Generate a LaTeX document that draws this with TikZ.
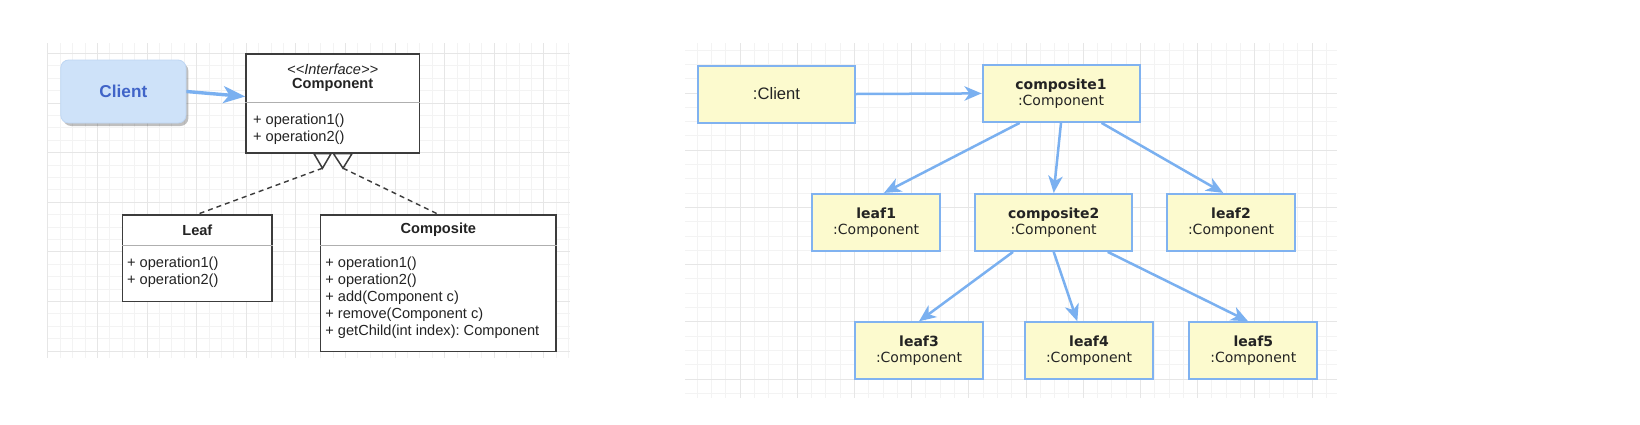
\documentclass[tikz,border=0pt]{standalone}
\usepackage{fontspec}
\setmainfont{Liberation Sans}
\newfontfamily\dvsans{DejaVu Sans}
\usetikzlibrary{arrows.meta,calc,shadows}
\definecolor{arrowblue}{RGB}{122,176,240}
\definecolor{boxblue}{RGB}{128,178,240}
\definecolor{boxfill}{RGB}{252,250,206}
\definecolor{clientfill}{RGB}{206,226,249}
\definecolor{clientborder}{RGB}{190,214,243}
\definecolor{clienttext}{RGB}{64,100,200}
\definecolor{umlline}{RGB}{60,60,60}
\definecolor{umldiv}{RGB}{175,175,175}
\definecolor{gridmajor}{RGB}{230,230,230}
\definecolor{gridminor}{RGB}{243,243,243}
\definecolor{txt}{RGB}{35,35,35}
\frenchspacing
\begin{document}
\begin{tikzpicture}[x=0.5pt,y=-0.5pt,
  umlbox/.style={draw=umlline,line width=0.7pt,fill=white,inner sep=0pt},
  objbox/.style={draw=boxblue,line width=1pt,fill=boxfill,inner sep=0pt,minimum height=28.5pt,font=\dvsans\fontsize{7}{8}\selectfont,text=txt,align=center},
  wideobj/.style={objbox,minimum width=78.5pt},
  leafobj/.style={objbox,minimum width=64pt},
  flow/.style={draw=arrowblue,line width=1.25pt,-{Stealth[length=8.5pt,width=7.2pt,inset=2.5pt]}},
  bigflow/.style={draw=arrowblue,line width=1.7pt,-{Stealth[length=11pt,width=8.5pt,inset=3pt]}},
  umltext/.style={font=\fontsize{7.3}{8.4}\selectfont,text=txt,inner sep=0pt},
  gminor/.style={draw=gridminor,line width=0.5pt},
  gmajor/.style={draw=gridmajor,line width=0.5pt},
]
\useasboundingbox (0,0) rectangle (1640,424);
\fill[white] (0,0) rectangle (1640,424);

% left grid
\begin{scope}
\clip (47,43) rectangle (570,358);
\foreach \i in {0,...,42} \draw[gminor] ({47.8+12.4*\i},43) -- ({47.8+12.4*\i},358);
\foreach \j in {0,...,25} \draw[gminor] (47,{41+12.4*\j}) -- (570,{41+12.4*\j});
\foreach \i in {0,...,10} \draw[gmajor] ({47.8+49.6*\i},43) -- ({47.8+49.6*\i},358);
\foreach \j in {0,...,6} \draw[gmajor] (47,{53.4+49.6*\j}) -- (570,{53.4+49.6*\j});
\end{scope}

% right grid
\begin{scope}
\clip (685,43) rectangle (1337,398);
\foreach \i in {0,...,46} \draw[gminor] ({682.8+14.3*\i},43) -- ({682.8+14.3*\i},398);
\foreach \j in {0,...,25} \draw[gminor] (685,{35.8+14.3*\j}) -- (1337,{35.8+14.3*\j});
\foreach \i in {0,...,11} \draw[gmajor] ({682.8+57.2*\i},43) -- ({682.8+57.2*\i},398);
\foreach \j in {0,...,6} \draw[gmajor] (685,{35.8+57.2*\j}) -- (1337,{35.8+57.2*\j});
\end{scope}

% ---------- left panel: class diagram ----------
\node[draw=clientborder,fill=clientfill,rounded corners=4pt,minimum width=62.65pt,minimum height=31.5pt,
  drop shadow={shadow xshift=1.2pt,shadow yshift=-1.5pt,fill=black,opacity=0.25},
  font=\bfseries\fontsize{8.6}{10}\selectfont,text=clienttext] (client) at (123.35,91.5) {Client};

\node[umlbox,minimum width=86.7pt,minimum height=49.5pt] (comp) at (332.7,103.5) {};
\draw[umldiv,line width=0.6pt] ($(comp.west)+(0,-1)$) -- ($(comp.east)+(0,-1)$);
\node[umltext,align=center,font=\fontsize{7.3}{7.2}\selectfont] (comphead) at (332.7,78)
  {\textit{<{}<Interface>{}>}\\\textbf{Component}};
\node[umltext,align=left,anchor=west] (compops) at (252.7,129) {+ operation1()\\+ operation2()};

\node[umlbox,minimum width=74.65pt,minimum height=43.35pt] (leaf) at (197.35,258.35) {};
\draw[umldiv,line width=0.6pt] ($(leaf.north west)+(0,31)$) -- ($(leaf.north east)+(0,31)$);
\node[umltext,font=\bfseries\fontsize{7.3}{8.4}\selectfont] (leafname) at (197.35,230) {Leaf};
\node[umltext,align=left,anchor=west] (leafops) at (126.7,272) {+ operation1()\\+ operation2()};

\node[umlbox,minimum width=117.65pt,minimum height=68.35pt] (compo) at (438.35,283.35) {};
\draw[umldiv,line width=0.6pt] ($(compo.north west)+(0,31)$) -- ($(compo.north east)+(0,31)$);
\node[umltext,font=\bfseries\fontsize{7.3}{8.4}\selectfont] (componame) at (438.35,230) {Composite};
\node[umltext,align=left,anchor=west,font=\fontsize{7.3}{8.45}\selectfont] (compoops) at (325,298)
  {+ operation1()\\+ operation2()\\+ add(Component c)\\+ remove(Component c)\\+ getChild(int index): Component};

\coordinate (tipL) at ($(comp.south)+(-10.2,14.5)$);
\coordinate (tipR) at ($(comp.south)+(10.3,14.5)$);
\draw[umlline,line width=0.75pt,fill=white] ($(comp.south)+(-18.7,0)$) -- ($(comp.south)+(-1.7,0)$) -- (tipL) -- cycle;
\draw[umlline,line width=0.75pt,fill=white] ($(comp.south)+(0.8,0)$) -- ($(comp.south)+(19.3,0)$) -- (tipR) -- cycle;
\draw[umlline,line width=0.7pt,dash pattern=on 2.5pt off 2pt] (tipL) -- (leaf.north);
\draw[umlline,line width=0.7pt,dash pattern=on 2.5pt off 2pt] (tipR) -- (compo.north);

\draw[bigflow] (client.east) -- ($(comp.west)+(0,-7)$);

% ---------- right panel: object diagram ----------
\node[wideobj,font=\fontsize{8.3}{10}\selectfont] (rclient) at (776.5,94) {:Client};
\node[wideobj] (c1) at (1061,93.4) {\textbf{composite1}\\:Component};
\node[leafobj] (l1) at (876.2,222.4) {\textbf{leaf1}\\:Component};
\node[wideobj] (c2) at (1053.7,222.4) {\textbf{composite2}\\:Component};
\node[leafobj] (l2) at (1231,222.4) {\textbf{leaf2}\\:Component};
\node[leafobj] (l3) at (919,350.8) {\textbf{leaf3}\\:Component};
\node[leafobj] (l4) at (1089,350.8) {\textbf{leaf4}\\:Component};
\node[leafobj] (l5) at (1253.3,350.8) {\textbf{leaf5}\\:Component};

\draw[flow] (rclient.east) -- (c1.west);
\draw[flow] ($(c1.south west)!0.24!(c1.south east)$) -- ($(l1.north west)!0.56!(l1.north east)$);
\draw[flow] (c1.south) -- (c2.north);
\draw[flow] ($(c1.south west)!0.755!(c1.south east)$) -- ($(l2.north west)!0.44!(l2.north east)$);
\draw[flow] ($(c2.south west)!0.244!(c2.south east)$) -- (l3.north);
\draw[flow] (c2.south) -- ($(l4.north west)!0.41!(l4.north east)$);
\draw[flow] ($(c2.south west)!0.84!(c2.south east)$) -- ($(l5.north west)!0.46!(l5.north east)$);
\end{tikzpicture}
\end{document}
